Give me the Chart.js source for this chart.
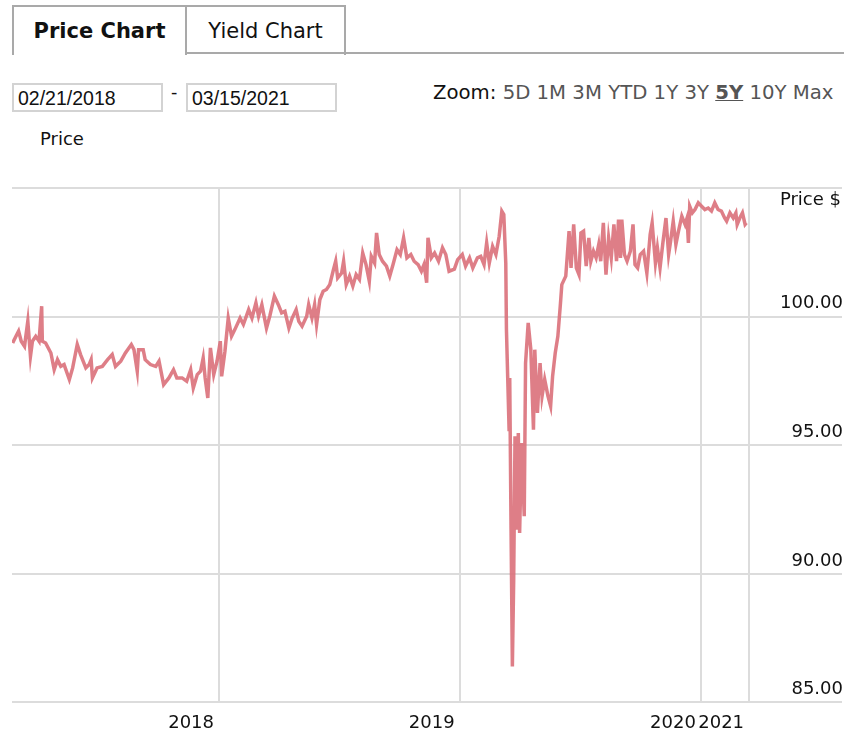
<!DOCTYPE html>
<html>
<head>
<meta charset="utf-8">
<title>Price Chart</title>
<script src="https://cdn.jsdelivr.net/npm/chart.js@4.4.0/dist/chart.umd.min.js"></script>
<style>
body { margin: 0; background: #fff; font-family: "DejaVu Sans", Verdana, sans-serif; color: #111; overflow: hidden; }
.tab { position: absolute; top: 5px; height: 50px; box-sizing: border-box; border: 2px solid #a9a9a9; border-bottom: none; font-size: 21px; line-height: 48px; text-align: center; }
#tabPrice { left: 12px; width: 175px; font-weight: bold; }
#tabYield { left: 185px; width: 161px; }
#tabLine { position: absolute; left: 185px; top: 52px; width: 659px; height: 2px; background: #a9a9a9; }
.dateBox { position: absolute; top: 83px; height: 29px; width: 151px; box-sizing: border-box; border: 2px solid #d3d3d3; font-family: "Liberation Sans", Arial, sans-serif; font-size: 19.5px; line-height: 26px; padding-left: 4px; }
#dateFrom { left: 12px; }
#dateTo { left: 186px; }
#dash { position: absolute; left: 171px; top: 82px; font-family: "Liberation Sans", Arial, sans-serif; font-size: 19px; }
#zoom { position: absolute; left: 433px; top: 81px; font-size: 19.7px; color: #555; white-space: nowrap; }
#zoom .lbl { color: #111; }
#zoom b { text-decoration: underline; }
#priceLbl { position: absolute; left: 40px; top: 128px; font-size: 18px; }
#chartBox { position: absolute; left: 0; top: 180px; width: 844px; height: 564px; }
</style>
</head>
<body>
<div class="tab" id="tabPrice">Price Chart</div>
<div class="tab" id="tabYield">Yield Chart</div>
<div id="tabLine"></div>
<div class="dateBox" id="dateFrom">02/21/2018</div>
<div id="dash">-</div>
<div class="dateBox" id="dateTo">03/15/2021</div>
<div id="zoom"><span class="lbl">Zoom:</span> 5D 1M 3M YTD 1Y 3Y <b>5Y</b> 10Y Max</div>
<div id="priceLbl">Price</div>
<div id="chartBox"><canvas id="priceChart"></canvas></div>
<script>
// days counted from 02/21/2018
const dayOffsets = [
  1, 6, 10, 14, 19, 24, 28, 31, 36, 41, 45, 46, 51, 59, 64, 69, 74, 79, 87, 92,
  99, 104, 112, 117, 120, 122, 129, 137, 145, 152, 157, 165, 172, 181, 185, 190, 192, 199, 202, 210,
  218, 223, 230, 238, 245, 250, 258, 265, 271, 275, 281, 286, 290, 293, 297, 301, 306, 311, 316, 318,
  323, 328, 333, 338, 346, 351, 359, 364, 370, 374, 379, 386, 391, 398, 404, 409, 414, 420, 425, 431,
  435, 440, 447, 450, 455, 459, 462, 467, 472, 477, 482, 487, 491, 494, 500, 503, 507, 512, 517, 522,
  527, 532, 537, 542, 545, 550, 553, 557, 562, 568, 573, 578, 584, 589, 594, 599, 605, 610, 616, 621,
  625, 629, 631, 636, 641, 647, 653, 658, 663, 671, 676, 683, 688, 694, 699, 706, 711, 716, 720, 724,
  729, 734, 739, 743, 746, 749, 750, 752, 754, 755, 757, 759, 761, 763, 766, 768, 770, 773, 777, 779,
  783, 787, 791, 793, 797, 801, 804, 808, 813, 817, 820, 824, 828, 832, 834, 840, 845, 848, 852, 856,
  860, 863, 867, 871, 875, 878, 882, 886, 890, 893, 897, 901, 905, 909, 913, 917, 920, 923, 925, 929,
  933, 938, 942, 945, 949, 953, 958, 963, 968, 971, 976, 979, 983, 987, 992, 996, 999, 1003, 1007, 1011,
  1016, 1021, 1024, 1026, 1028, 1032, 1036, 1041, 1046, 1051, 1056, 1061, 1066, 1071, 1076, 1081, 1084, 1089, 1094, 1098,
  1100, 1104, 1108, 1112, 1114
];
const prices = [
  98.98, 99.24, 99.44, 99.05, 98.85, 99.83, 98.46, 99.05, 99.24, 99.05, 100.41, 99.05, 98.98, 98.59, 97.94, 98.33, 98.07, 98.14, 97.56, 98.01,
  98.92, 98.53, 98.01, 98.14, 98.33, 97.62, 98.01, 98.07, 98.33, 98.53, 98.07, 98.27, 98.59, 98.92, 98.72, 97.88, 98.72, 98.72, 98.33, 98.14,
  98.07, 98.27, 97.36, 97.62, 97.94, 97.62, 97.62, 97.49, 97.94, 97.23, 97.75, 97.88, 98.40, 97.62, 96.84, 98.79, 97.75, 98.27, 99.05, 97.68,
  98.66, 99.95, 99.24, 99.50, 99.95, 99.70, 100.28, 99.95, 100.54, 100.02, 100.47, 99.56, 100.02, 100.80, 100.47, 100.15, 100.21, 99.56, 99.95, 100.28,
  99.82, 99.63, 100.02, 100.47, 99.95, 100.47, 99.70, 100.67, 100.99, 101.06, 101.25, 101.77, 102.16, 101.51, 101.70, 102.16, 101.25, 101.58, 101.19, 101.64,
  101.45, 102.48, 102.03, 101.38, 102.35, 102.09, 103.26, 102.42, 102.16, 101.97, 101.58, 102.03, 102.61, 102.42, 103.07, 102.29, 102.42, 102.16, 102.03, 101.77,
  102.03, 101.32, 103.07, 102.29, 102.48, 102.16, 102.68, 102.42, 101.77, 101.85, 102.22, 102.42, 101.97, 102.29, 101.90, 102.29, 102.35, 102.03, 102.87, 102.09,
  102.74, 102.42, 103.13, 104.11, 103.98, 102.09, 99.50, 97.56, 95.61, 97.62, 91.72, 86.40, 89.77, 95.35, 91.72, 95.48, 91.59, 95.09, 92.24, 98.20,
  99.76, 98.72, 95.61, 98.72, 96.26, 98.20, 96.91, 97.56, 96.91, 96.52, 97.68, 98.59, 99.24, 100.54, 101.25, 101.58, 103.33, 101.90, 103.59, 101.90,
  101.64, 103.26, 103.33, 101.97, 103.07, 102.16, 102.55, 102.29, 102.81, 102.16, 103.65, 101.64, 103.07, 102.29, 103.59, 102.16, 103.78, 102.29, 103.78, 102.42,
  102.16, 102.55, 103.59, 102.03, 101.90, 102.42, 102.55, 101.70, 103.20, 103.65, 102.09, 102.68, 101.90, 102.81, 103.84, 102.42, 102.94, 103.72, 102.81, 103.33,
  103.91, 103.59, 103.84, 102.87, 104.30, 104.04, 104.17, 104.43, 104.30, 104.17, 104.23, 104.11, 104.43, 104.17, 104.11, 103.84, 103.72, 104.04, 103.84, 104.04,
  103.59, 103.84, 104.04, 103.59, 103.65
];
const yearTickDays = [314, 679, 1045, 1118];
const yearTickLabels = ['2018', '2019', '2020', '2021'];
const priceTicks = [85, 90, 95, 100, 105];

// "Price $" sits under the top line on the right
const priceTitle = {
  id: 'priceTitle',
  afterDraw(chart) {
    const ctx = chart.ctx;
    const area = chart.chartArea;
    ctx.save();
    ctx.font = '18px "DejaVu Sans"';
    ctx.fillStyle = '#111';
    ctx.textAlign = 'right';
    ctx.textBaseline = 'middle';
    ctx.fillText('Price $', area.right - 1, area.top + 12);
    ctx.restore();
  }
};

new Chart(document.getElementById('priceChart'), {
  type: 'line',
  data: {
    datasets: [{
      label: 'Price',
      data: dayOffsets.map((d, i) => ({ x: d, y: prices[i] })),
      borderColor: 'rgba(218, 112, 122, 0.9)',
      borderWidth: 3.5,
      pointRadius: 0,
      tension: 0
    }]
  },
  options: {
    responsive: true,
    maintainAspectRatio: false,
    animation: false,
    layout: { padding: { top: 0, left: 12, right: 0, bottom: 0 } },
    plugins: { legend: { display: false }, tooltip: { enabled: false } },
    scales: {
      x: {
        type: 'linear',
        min: 0,
        max: 1259,
        afterBuildTicks: scale => { scale.ticks = yearTickDays.map(v => ({ value: v })); },
        grid: { color: '#dcdcdc', lineWidth: 2, drawTicks: false },
        border: { display: false },
        ticks: {
          autoSkip: false,
          maxRotation: 0,
          align: 'end',
          labelOffset: -5,
          padding: 10,
          color: '#111',
          font: { family: 'DejaVu Sans', size: 18 },
          callback: (v, i) => yearTickLabels[i]
        }
      },
      y: {
        position: 'right',
        min: 85,
        max: 105,
        afterBuildTicks: scale => { scale.ticks = priceTicks.map(v => ({ value: v })); },
        grid: { color: '#dcdcdc', lineWidth: 2, drawTicks: false },
        border: { display: false },
        ticks: {
          mirror: true,
          padding: 1,
          labelOffset: -13,
          color: '#111',
          font: { family: 'DejaVu Sans', size: 18, lineHeight: 0.8 },
          callback: v => (v === 105 ? '' : v.toFixed(2))
        }
      }
    }
  },
  plugins: [priceTitle]
});
</script>
</body>
</html>
